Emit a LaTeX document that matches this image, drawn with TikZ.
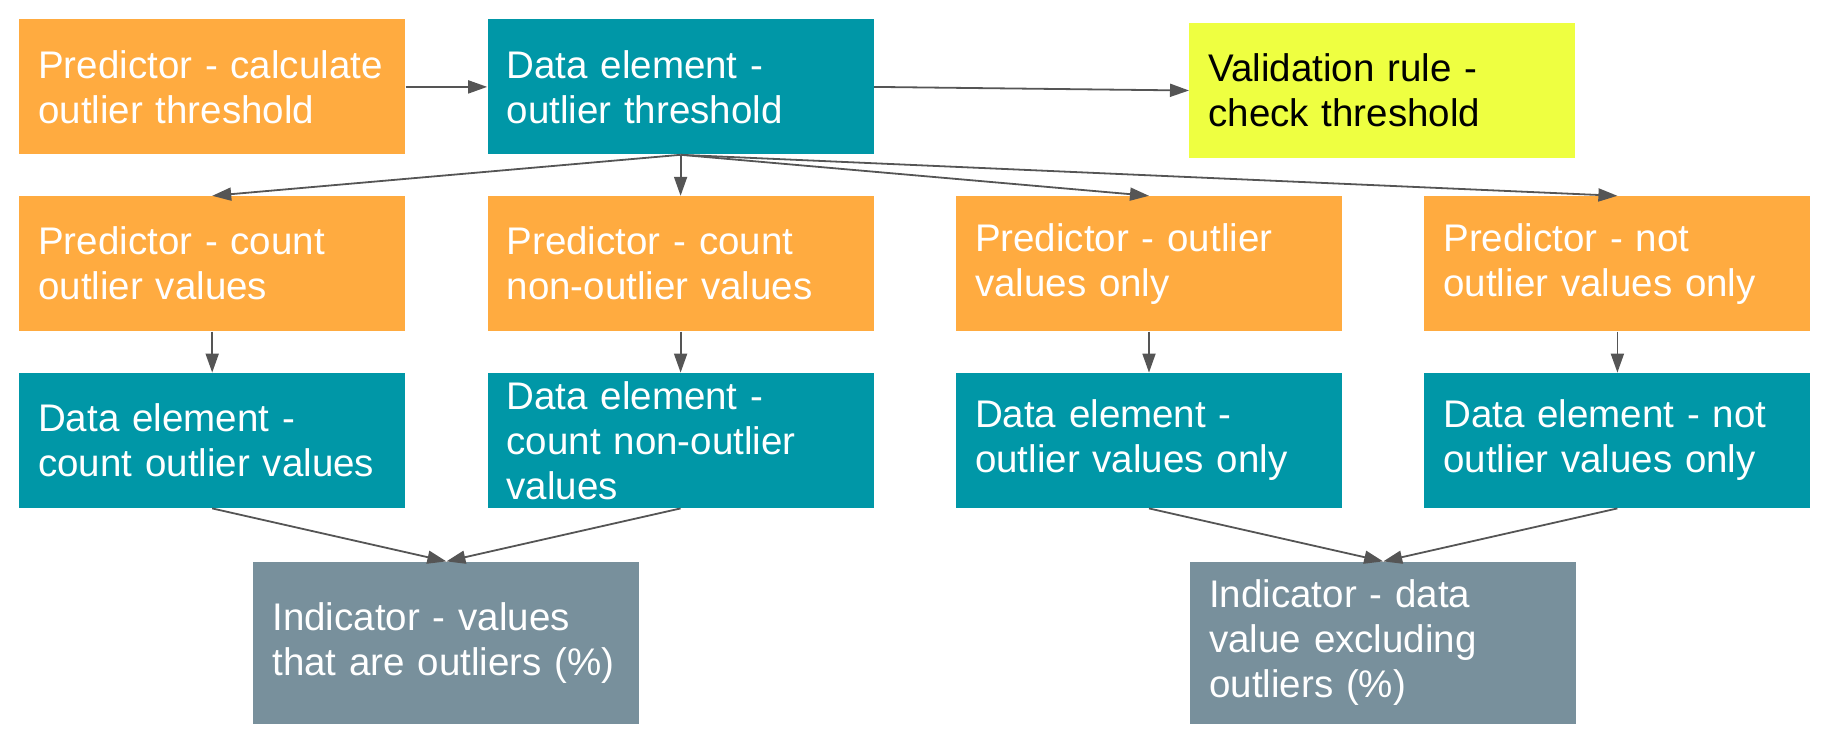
\documentclass[tikz,border=0pt]{standalone}
\usepackage{fontspec}
\setmainfont{Liberation Sans}
\usetikzlibrary{arrows.meta, positioning, calc}
\definecolor{predOrange}{HTML}{FFAB40}
\definecolor{elemTeal}{HTML}{0097A7}
\definecolor{ruleLime}{HTML}{EEFF41}
\definecolor{indGrey}{HTML}{78909C}
\definecolor{linkGrey}{HTML}{555555}
\tikzset{
    % Base Block Style
    block/.style={
        rectangle,
        minimum width=193pt,
        minimum height=67.5pt,
        text width=174pt,
        inner xsep=9.5pt,
        align=left,
        font=\fontsize{19.25}{22.5}\selectfont,
        text=white
    },
    % Specific Role Styles
    predBox/.style={block, fill=predOrange},
    elemBox/.style={block, fill=elemTeal},
    ruleBox/.style={block, fill=ruleLime, text=black},
    indBox/.style={block, fill=indGrey, minimum height=81pt},
    % Arrow Style
    arrow/.style={-{Triangle[length=9.5pt, width=6.5pt]}, line width=0.9pt, draw=linkGrey}
}

\begin{document}
\begin{tikzpicture}[node distance=20.5pt and 40.8pt]

    % --- ROW 1 (Threshold) ---
    \node (calc) [predBox] {Predictor - calculate\\outlier threshold};
    \node (thr) [elemBox, right=of calc] {Data element -\\outlier threshold};
    \node (rule) [ruleBox, right=157.5pt of thr, yshift=-1.8pt] {Validation rule -\\check threshold};

    % --- ROW 2 (Predictors) ---
    \node (pCnt) [predBox, below=of calc] {Predictor - count\\outlier values};
    \node (pNon) [predBox, below=of thr] {Predictor - count\\non-outlier values};
    \node (pOut) [predBox, right=of pNon] {Predictor - outlier\\values only};
    \node (pNot) [predBox, right=of pOut] {Predictor - not\\outlier values only};

    % --- ROW 3 (Data elements) ---
    \node (eCnt) [elemBox, below=of pCnt] {Data element -\\count outlier values};
    \node (eNon) [elemBox, below=of pNon] {Data element -\\count non-outlier\\values};
    \node (eOut) [elemBox, below=of pOut] {Data element -\\outlier values only};
    \node (eNot) [elemBox, below=of pNot] {Data element - not\\outlier values only};

    % --- ROW 4 (Indicators) ---
    \coordinate (midL) at ($(eCnt.south)!0.5!(eNon.south)$);
    \coordinate (midR) at ($(eOut.south)!0.5!(eNot.south)$);
    \node (iPct) [indBox, below=26.5pt of midL] {Indicator - values\\that are outliers (\%)};
    \node (iExc) [indBox, below=26.5pt of midR] {Indicator - data\\value excluding\\outliers (\%)};

    % --- Arrows ---
    \draw [arrow] (calc) -- (thr);
    \draw [arrow] (thr.east) -- (rule.west);
    \foreach \dst in {pCnt, pNon, pOut, pNot}
        \draw [arrow] (thr.south) -- (\dst.north);
    \draw [arrow] (pCnt) -- (eCnt);
    \draw [arrow] (pNon) -- (eNon);
    \draw [arrow] (pOut) -- (eOut);
    \draw [arrow] (pNot) -- (eNot);
    \draw [arrow] (eCnt.south) -- (iPct.north);
    \draw [arrow] (eNon.south) -- (iPct.north);
    \draw [arrow] (eOut.south) -- (iExc.north);
    \draw [arrow] (eNot.south) -- (iExc.north);

    % --- Page margins ---
    \useasboundingbox ($(calc.north west)+(-9.4pt,9.5pt)$) rectangle ($(calc.north west)+(906.6pt,-363.5pt)$);

\end{tikzpicture}
\end{document}
